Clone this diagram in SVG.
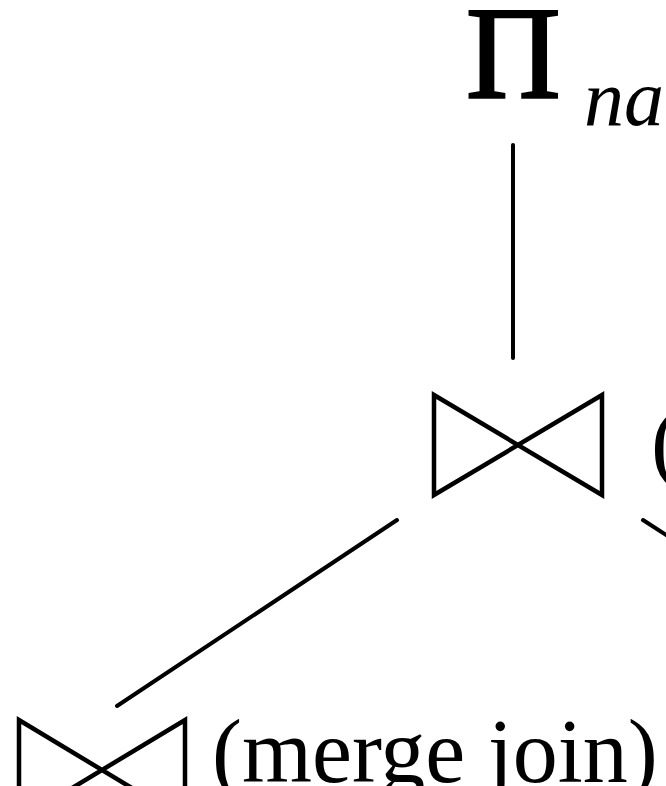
<svg xmlns="http://www.w3.org/2000/svg" width="666" height="786" viewBox="0 0 666 786">
<style>
.t{font-family:"Liberation Serif","Times New Roman",serif;fill:#000}
.e{stroke:#000;stroke-width:4;fill:none;stroke-linecap:round}
.j{stroke:#000;stroke-width:4.5;fill:none;stroke-linejoin:miter}
</style>
<rect width="666" height="786" fill="#fff"/>
<g id="project">
<text class="t" x="466" y="97" font-size="131" stroke="#000" stroke-width="2.5">Π</text>
<text class="t" x="584" y="125" font-size="80" font-style="italic">na</text>
</g>
<g id="join1">
<path class="j" d="M434,395 L434,495 L602,395 L602,495 Z"/>
<text class="t" x="651" y="472" font-size="90">(</text>
</g>
<g id="join2">
<path class="j" d="M19,720 L19,820 L185,720 L185,820 Z"/>
<text class="t" x="212" y="782" font-size="90">(merge join)</text>
</g>
<g id="connectors">
<line class="e" x1="513" y1="145" x2="513" y2="358"/>
<line class="e" x1="397" y1="520" x2="117" y2="706"/>
<line class="e" x1="643" y1="520" x2="680" y2="544"/>
</g>
</svg>
